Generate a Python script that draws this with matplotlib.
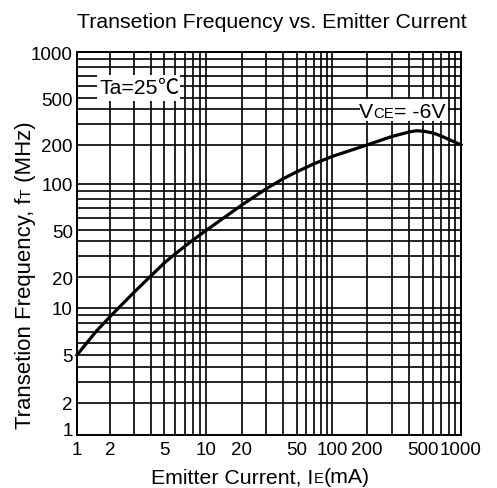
import matplotlib.pyplot as plt
import matplotlib.transforms as mtransforms
from matplotlib.patches import Rectangle
import numpy as np

plt.rcParams['font.family'] = ['Liberation Sans', 'Noto Sans CJK JP', 'DejaVu Sans']

# Emitter current (mA) and transition frequency (MHz)
ie = [1, 1.5, 2, 3, 4, 5, 6, 7, 8, 10, 20, 30, 40, 50, 70, 100,
      200, 300, 400, 450, 500, 600, 700, 800, 900, 1000]
ft = [5, 7.1, 8.8, 14.2, 20.5, 26.3, 31.4, 36.2, 40.9, 49.5, 73, 93, 110, 124, 143, 163,
      200, 236, 258, 264, 262, 253, 238, 223, 211, 200]

tick_values = [1, 2, 5, 10, 20, 50, 100, 200, 500, 1000]
minor_values = [k * 10 ** n for n in range(3) for k in (3, 4, 6, 7, 8, 9)]

# The datasheet paper is not a clean log grid, so each labelled value
# gets its own place along the axis (fraction of the axis length)
x_frac = [0, 0.0859, 0.2273, 0.3359, 0.4297, 0.5721, 0.6641, 0.7552, 0.9010, 1.0]
y_frac = [0, 0.0836, 0.2089, 0.3316, 0.4125, 0.5352, 0.6554, 0.7572, 0.8799, 1.0]


def paper_scale(frac):
    lv = np.log10(tick_values)
    fr = np.asarray(frac, float)
    s0 = (fr[1] - fr[0]) / (lv[1] - lv[0])
    s1 = (fr[-1] - fr[-2]) / (lv[-1] - lv[-2])

    def fwd(v):
        v = np.log10(np.clip(np.asarray(v, float), 1e-6, None))
        out = np.interp(v, lv, fr)
        out = np.where(v < lv[0], fr[0] + (v - lv[0]) * s0, out)
        return np.where(v > lv[-1], fr[-1] + (v - lv[-1]) * s1, out)

    def inv(f):
        f = np.asarray(f, float)
        out = np.interp(f, fr, lv)
        out = np.where(f < fr[0], lv[0] + (f - fr[0]) / s0, out)
        out = np.where(f > fr[-1], lv[-1] + (f - fr[-1]) / s1, out)
        return 10 ** out

    return fwd, inv


fig = plt.figure(figsize=(4.97, 4.89), dpi=100)
ax = fig.add_axes([0.1549, 0.1084, 0.7726, 0.7832])

ax.set_xscale('function', functions=paper_scale(x_frac))
ax.set_yscale('function', functions=paper_scale(y_frac))
ax.set_xlim(1, 1000)
ax.set_ylim(1, 1000)

for axis in (ax.xaxis, ax.yaxis):
    axis.set_major_locator(plt.FixedLocator(tick_values))
    axis.set_minor_locator(plt.FixedLocator(minor_values))
    axis.set_major_formatter(plt.FuncFormatter(lambda v, p: f'{v:g}'))
    axis.set_minor_formatter(plt.NullFormatter())

ax.tick_params(which='both', length=0, labelsize=13.5, colors='black')
ax.tick_params(axis='x', pad=4)
ax.tick_params(axis='y', pad=3)
ax.grid(True, which='both', color='black', linewidth=1.2)
for s in ax.spines.values():
    s.set_linewidth(1.4)

ax.plot(ie, ft, color='black', linewidth=2.3, clip_on=False)

# lift the "1" on the y axis off the corner
ax.get_yticklabels()[0].set_verticalalignment('baseline')

renderer = fig.canvas.get_renderer()


def pieces_text(x, y, pieces, transform, rotation=0):
    # write mixed-size text on one baseline, centred on (x, y)
    pieces = [p if len(p) == 3 else (p[0], p[1], None) for p in pieces]
    widths = []
    for s, size, fam in pieces:
        t = fig.text(0, 0, s, fontsize=size, family=fam)
        widths.append(t.get_window_extent(renderer).width)
        t.remove()
    pos = -sum(widths) / 2
    for (s, size, fam), w in zip(pieces, widths):
        dx, dy = (0, pos) if rotation else (pos, 0)
        tr = transform + mtransforms.ScaledTranslation(dx / fig.dpi, dy / fig.dpi,
                                                       fig.dpi_scale_trans)
        fig.text(x, y, s, fontsize=size, family=fam, transform=tr, rotation=rotation,
                 rotation_mode='anchor', ha='left', va='baseline', zorder=5)
        pos += w


big, small = 15.3, 10.7

# white boxes behind the two notes
ax.add_patch(Rectangle((0.0529, 0.8716), 0.2161, 0.0689, transform=ax.transAxes,
                       facecolor='white', edgecolor='none', zorder=2.6))
ax.add_patch(Rectangle((0.7370, 0.8200), 0.2292, 0.0574, transform=ax.transAxes,
                       facecolor='white', edgecolor='none', zorder=2.6))
pieces_text(0.1615, 0.893, [('Ta=25', big), ('℃', big, ['Noto Sans CJK JP', 'DejaVu Sans'])],
            ax.transAxes)
pieces_text(0.8477, 0.8295, [('V', big), ('CE', small), ('= -6V', big)], ax.transAxes)

fig.text(0.548, 0.9421, 'Transetion Frequency vs. Emitter Current', fontsize=big,
         ha='center', va='baseline')
pieces_text(0.524, 0.0116, [('Emitter Current, I', big), ('E', small), ('(mA)', big)],
            fig.transFigure)
pieces_text(0.0624, 0.4366, [('Transetion Frequency, f', 15.9), ('T', 11.1), (' (MHz)', 15.9)],
            fig.transFigure, rotation=90)

fig.savefig('out.png', dpi=100)
